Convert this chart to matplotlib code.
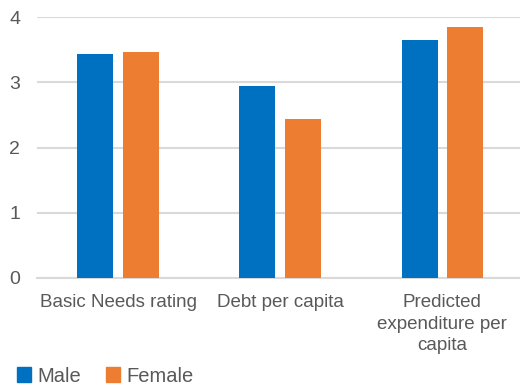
import numpy as np
import matplotlib.pyplot as plt
from matplotlib.patches import Patch

categories = ["Basic Needs rating", "Debt per capita", "Predicted\nexpenditure per\ncapita"]
male = [3.43, 2.94, 3.65]
female = [3.46, 2.44, 3.85]
y_ticks = [0, 1, 2, 3, 4]

BLUE = "#0070C0"
ORANGE = "#ED7D31"
GREY = "#595959"

plt.rcParams["font.family"] = ["Liberation Sans", "DejaVu Sans"]

fig = plt.figure(figsize=(5.2, 3.87), dpi=100)
ax = fig.add_axes([37 / 520, 109 / 387, 1 - 37 / 520, 261 / 387])

x = np.arange(len(categories))
w = 0.222
ax.bar(x - 0.14, male, w, color=BLUE, zorder=3)
ax.bar(x + 0.14, female, w, color=ORANGE, zorder=3)

ax.set_xlim(-0.5, 2.48)
ax.set_ylim(0, 4)
ax.set_yticks(y_ticks)
ax.set_xticks(x)
ax.set_xticklabels(categories, linespacing=1.36)
ax.yaxis.grid(True, color="#d9d9d9", linewidth=1.5, zorder=0)
for s in ["top", "right", "left"]:
    ax.spines[s].set_visible(False)
ax.spines["bottom"].set_color("#d9d9d9")
ax.spines["bottom"].set_linewidth(1.5)
ax.tick_params(axis="y", length=0, pad=12, labelsize=14, labelcolor=GREY)
ax.tick_params(axis="x", length=0, pad=11.5, labelsize=13.5, labelcolor=GREY)

handles = [Patch(color=BLUE, label="Male"), Patch(color=ORANGE, label="Female")]
fig.legend(handles=handles, loc="lower left", bbox_to_anchor=(-0.003, -0.043), ncol=2,
           frameon=False, fontsize=14.5, labelcolor=GREY, handlelength=0.7,
           handleheight=0.7, handletextpad=0.35, columnspacing=1.2)

fig.savefig("out.png", dpi=100)
